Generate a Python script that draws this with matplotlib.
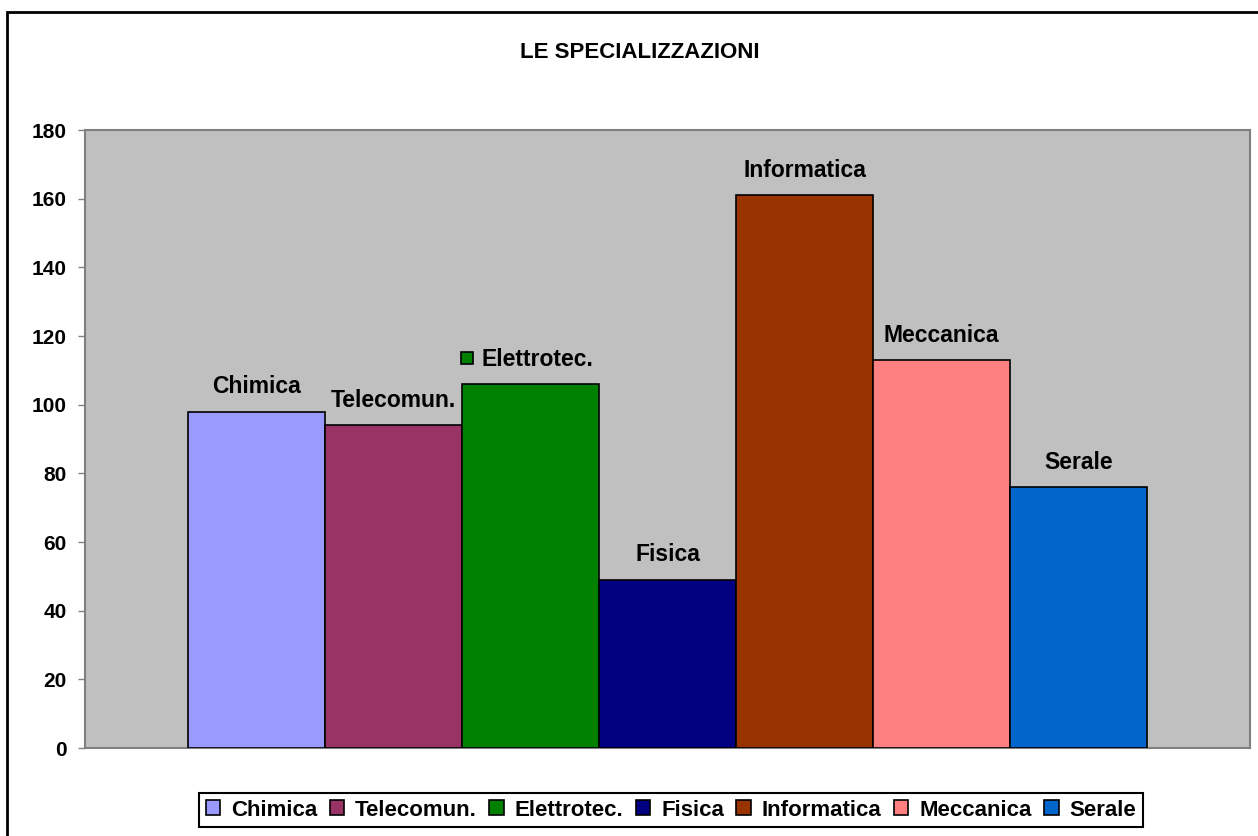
import matplotlib
matplotlib.use("Agg")
import matplotlib.pyplot as plt
import matplotlib.patches as mpatches
from matplotlib.transforms import offset_copy

names = ['Chimica', 'Telecomun.', 'Elettrotec.', 'Fisica', 'Informatica', 'Meccanica', 'Serale']
values = [98, 94, 106, 49, 161, 113, 76]
colors = ['#9999FF', '#993366', '#008000', '#000080', '#993300', '#FF8080', '#0066CC']
y_ticks = [0, 20, 40, 60, 80, 100, 120, 140, 160, 180]

plt.rcParams.update({
    "font.family": ["Liberation Sans", "DejaVu Sans"],
    "font.weight": "bold",
})

fig = plt.figure(figsize=(12.58, 8.36), dpi=100)
fig.patch.set_facecolor('white')
ax = fig.add_axes([85 / 1258, 88 / 836, 1165 / 1258, 618 / 836])
ax.set_facecolor('#C0C0C0')

x = list(range(len(names)))
bars = ax.bar(x, values, width=1.0, color=colors, edgecolor='black', linewidth=1.2, zorder=3)

ax.set_xlim(-1.25, 7.25)
ax.set_ylim(0, 180)
ax.set_yticks(y_ticks)
ax.set_xticks([])
ax.tick_params(axis='y', direction='out', length=5, width=1, color='#808080', labelsize=15, pad=8)
for lbl in ax.get_yticklabels():
    lbl.set_fontweight('bold')
for s in ax.spines.values():
    s.set_color('#808080')
    s.set_linewidth(1.5)

# labels above bars
for i, (n, v) in enumerate(zip(names, values)):
    dx = 5 if n == 'Elettrotec.' else 0
    ax.annotate(n, (i, v), xytext=(dx, 18), textcoords='offset points',
                ha='center', va='center', fontsize=16.5, fontweight='bold', zorder=5)
    if n == 'Elettrotec.':
        tr = offset_copy(ax.transData, fig=fig, x=-46, y=19, units='points')
        ax.plot([i], [v], marker='s', ms=8, mfc=colors[i], mec='black', mew=1.2,
                transform=tr, clip_on=False, zorder=5)

fig.text(640 / 1258, 1 - 52 / 836, 'LE SPECIALIZZAZIONI', ha='center', va='center',
         fontsize=16, fontweight='bold')

# chart border
fig.patches.append(mpatches.Rectangle((7 / 1258, -0.05), 1.2, 1 - 12 / 836 + 0.05,
                                      transform=fig.transFigure, fill=False,
                                      edgecolor='black', linewidth=2))

handles = [mpatches.Patch(facecolor=c, edgecolor='black', linewidth=1.2, label=n)
           for n, c in zip(names, colors)]
leg = fig.legend(handles=handles, loc='center', bbox_to_anchor=(671 / 1258, 1 - 810 / 836),
                 ncol=7, fontsize=16, frameon=True, fancybox=False, framealpha=1,
                 edgecolor='black', handlelength=0.65, handleheight=0.65,
                 handletextpad=0.5, columnspacing=0.55, borderpad=0.3)
leg.get_frame().set_linewidth(1.5)
for t in leg.get_texts():
    t.set_fontweight('bold')

fig.savefig('out.png', dpi=100)
